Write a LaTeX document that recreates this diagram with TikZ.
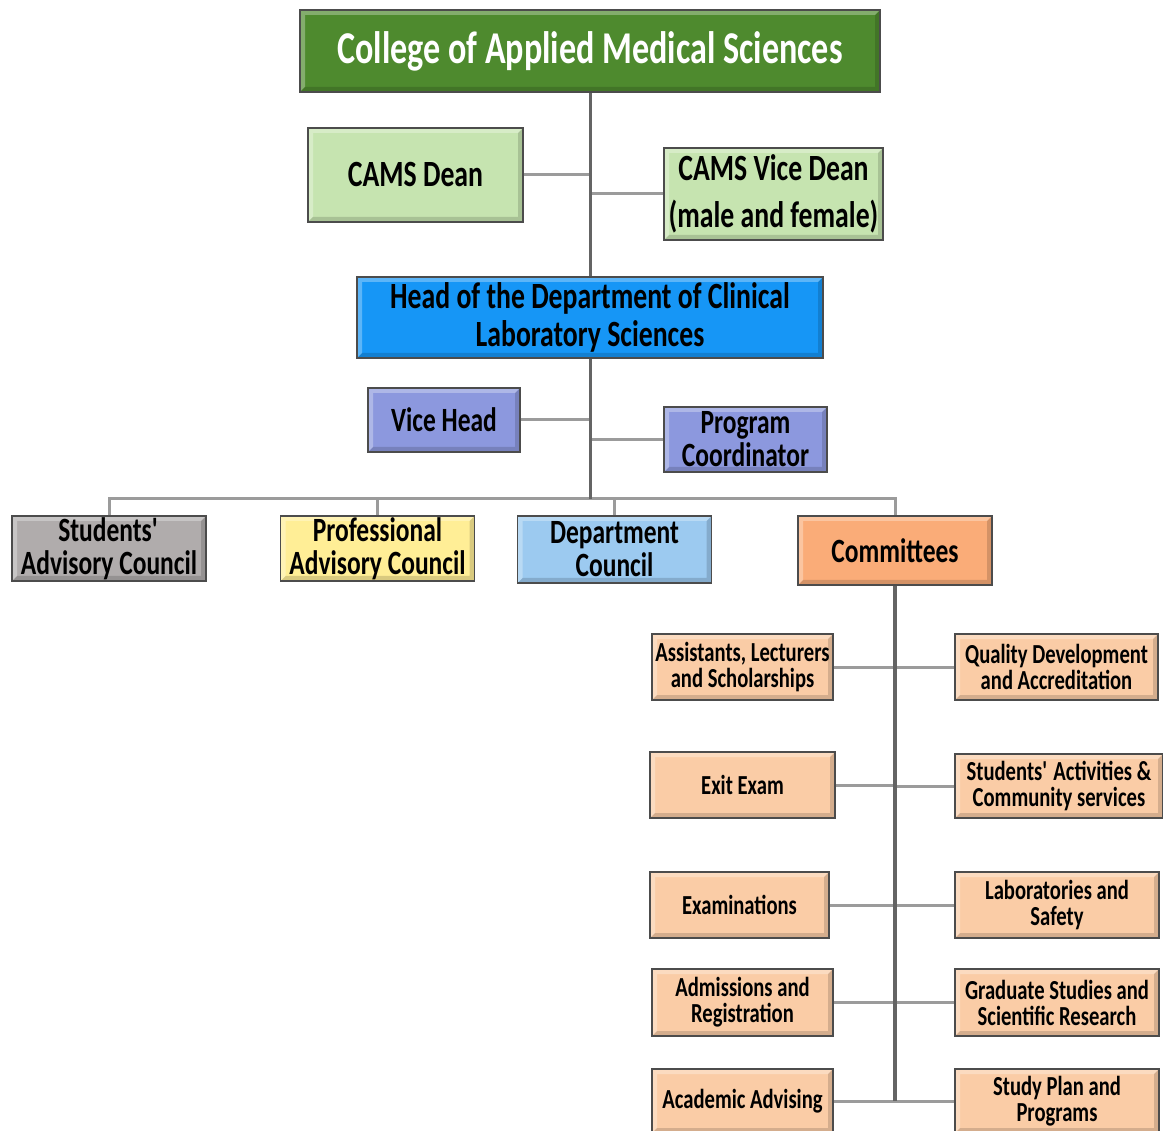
\documentclass[tikz,border=0pt]{standalone}
\usepackage{fontspec}
\setmainfont{Carlito}[FakeStretch=0.75]
\usetikzlibrary{positioning, calc}
\definecolor{cTitle}{RGB}{78,138,46}
\definecolor{cDean}{RGB}{198,228,176}
\definecolor{cHead}{RGB}{22,150,246}
\definecolor{cViceHead}{RGB}{140,152,222}
\definecolor{cStud}{RGB}{176,172,172}
\definecolor{cProf}{RGB}{255,238,150}
\definecolor{cDept}{RGB}{156,202,240}
\definecolor{cComm}{RGB}{250,172,120}
\definecolor{cSub}{RGB}{250,204,166}
\definecolor{cLine}{RGB}{155,155,155}
\definecolor{cTrunk}{RGB}{100,100,100}
\tikzset{
	unit/.style   ={rectangle, draw=black!70, line width=1.6pt, align=center, inner sep=0pt, bevel},
	% light top/left edge, dark bottom/right edge
	bevel/.style  ={path picture={
		\fill[white, opacity=.3] (path picture bounding box.north west) -- (path picture bounding box.north east) -- ++(-5pt,-5pt) -| ($(path picture bounding box.south west)+(5pt,5pt)$) -- (path picture bounding box.south west) -- cycle;
		\fill[black, opacity=.15] (path picture bounding box.south east) -- (path picture bounding box.south west) -- ++(5pt,5pt) -| ($(path picture bounding box.north east)+(-5pt,-5pt)$) -- (path picture bounding box.north east) -- cycle;}},
	bigtxt/.style ={font=\bfseries\fontsize{37}{38}\selectfont},
	midtxt/.style ={font=\bfseries\fontsize{34}{33}\selectfont},
	subtxt/.style ={font=\bfseries\fontsize{27.5}{26}\selectfont},
	% committee boxes
	comm/.style   ={unit, subtxt, fill=cSub, minimum height=66pt},
	link/.style   ={draw=cLine, line width=3pt},
	trunk/.style  ={draw=cTrunk, line width=3pt},
}

\begin{document}
\begin{tikzpicture}[x=1pt, y=-1pt]
	\clip (0,0) rectangle (1163,1131);
	% top levels
	\node[unit, fill=cTitle, text=white, minimum width=580pt, minimum height=82pt, font=\bfseries\fontsize{45.5}{45}\selectfont] (col) at (590,51) {College of Applied Medical Sciences};
	\node[unit, bigtxt, fill=cDean, minimum width=215pt, minimum height=94pt] (dean) at (415.5,175) {CAMS Dean};
	\node[unit, bigtxt, fill=cDean, minimum width=219pt, minimum height=92pt, font=\bfseries\fontsize{37}{47}\selectfont] (vdean) at (773.5,194) {CAMS Vice Dean\\(male and female)};
	\node[unit, bigtxt, fill=cHead, minimum width=466pt, minimum height=81pt] (head) at (590,317.5) {Head of the Department of Clinical\\Laboratory Sciences};
	\node[unit, midtxt, fill=cViceHead, minimum width=152pt, minimum height=64pt] (vhead) at (444,420) {Vice Head};
	\node[unit, midtxt, fill=cViceHead, minimum width=163pt, minimum height=65pt] (pco) at (745.5,439.5) {Program\\Coordinator};
	% councils row
	\node[unit, midtxt, fill=cStud, minimum width=194pt, minimum height=65pt] (sac) at (109,548.5) {Students\textquotesingle\\Advisory Council};
	\node[unit, midtxt, fill=cProf, minimum width=194pt, minimum height=65pt] (pac) at (377.5,548.5) {Professional\\Advisory Council};
	\node[unit, midtxt, fill=cDept, minimum width=194pt, minimum height=67pt] (dc) at (614.5,549.5) {Department\\Council};
	\node[unit, midtxt, fill=cComm, minimum width=194pt, minimum height=69pt] (com) at (895,550.5) {Committees};
	% committees, left column
	\node[comm, minimum width=181pt] (asl) at (742.5,667) {Assistants, Lecturers\\and Scholarships};
	\node[comm, minimum width=185pt] (exit) at (742.5,785) {Exit Exam};
	\node[comm, minimum width=179pt] (exa) at (739.5,905) {Examinations};
	\node[comm, minimum width=181pt, minimum height=67pt] (adm) at (742.5,1002.5) {Admissions and\\Registration};
	\node[comm, minimum width=181pt, minimum height=64pt] (adv) at (742.5,1101) {Academic Advising};
	% committees, right column
	\node[comm, minimum width=203pt] (qda) at (1056.5,667) {Quality Development\\and Accreditation};
	\node[comm, minimum width=208pt, minimum height=64pt] (sacs) at (1059,786) {Students\textquotesingle\ Activities \&\\Community services};
	\node[comm, minimum width=204pt] (lab) at (1057,905) {Laboratories and\\Safety};
	\node[comm, minimum width=204pt, minimum height=67pt] (gss) at (1057,1002.5) {Graduate Studies and\\Scientific Research};
	\node[comm, minimum width=204pt, minimum height=64pt] (spp) at (1057,1101) {Study Plan and\\Programs};
	% connectors
	\coordinate (bus) at (590,499);
	\draw[link] (dean.east) -- (dean.east -| col.south);
	\draw[link] (vdean.west) -- (vdean.west -| col.south);
	\draw[trunk] (col.south) -- (head.north);
	\draw[link] (vhead.east) -- (vhead.east -| head.south);
	\draw[link] (pco.west) -- (pco.west -| head.south);
	\draw[link] (sac.north) -- (sac.north |- bus) -| (com.north);
	\foreach \n in {pac,dc} \draw[link] (\n.north) -- (\n.north |- bus);
	\draw[trunk] (head.south) -- (bus);
	\foreach \n in {asl,exit,exa,adm,adv} \draw[link] (\n.east) -- (\n.east -| com.south);
	\foreach \n in {qda,sacs,lab,gss,spp} \draw[link] (\n.west) -- (\n.west -| com.south);
	\draw[trunk, line width=4pt] (com.south) -- (com.south |- adv.east);
\end{tikzpicture}
\end{document}
